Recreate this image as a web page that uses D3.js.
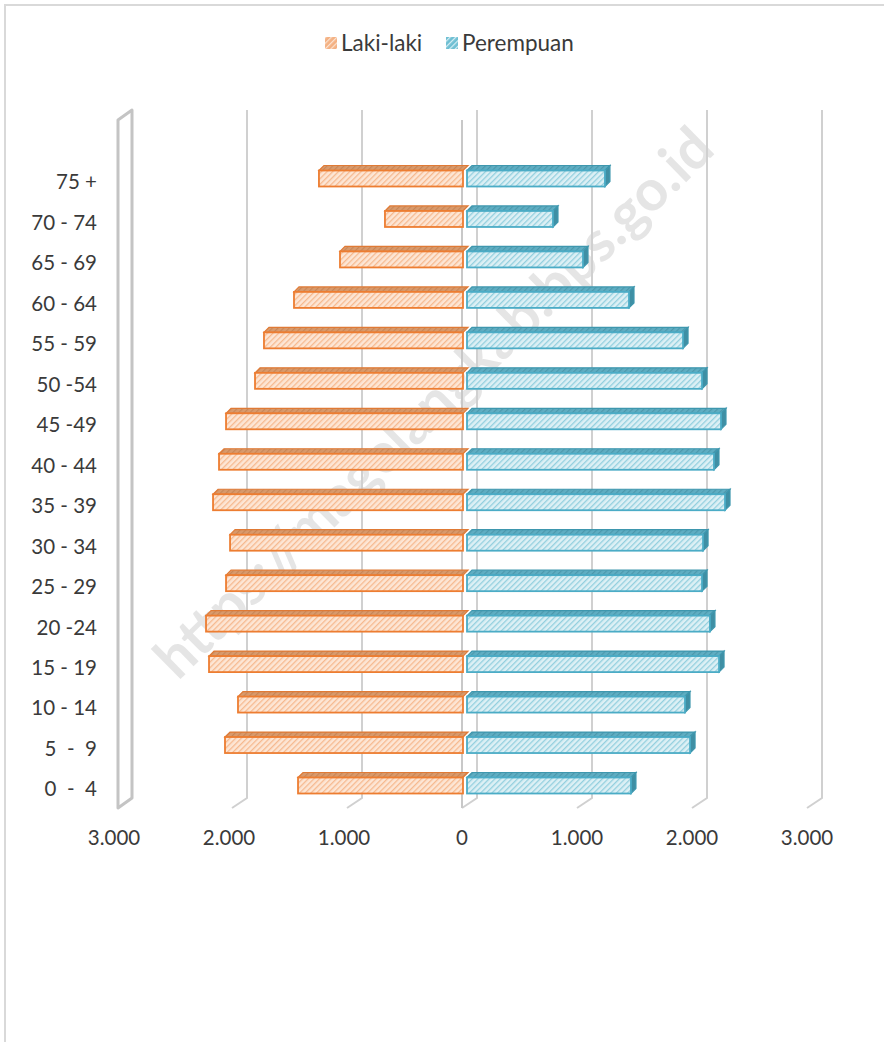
<!DOCTYPE html>
<html>
<head>
<meta charset="utf-8">
<script src="https://cdn.jsdelivr.net/npm/d3@7"></script>
<style>
  html, body { margin: 0; padding: 0; background: #fff; }
  svg { display: block; }
  text { font-family: Lato, "Open Sans", sans-serif; }
</style>
</head>
<body>
<svg id="chart" width="884" height="1042"></svg>
<script>
// ---- data ----
const categories = ["0  -  4", "5  -  9", "10 - 14", "15 - 19", "20 -24", "25 - 29", "30 - 34", "35 - 39",
                    "40 - 44", "45 -49", "50 -54", "55 - 59", "60 - 64", "65 - 69", "70 - 74", "75 +"];
const lakiLaki  = [1452, 2087, 1974, 2226, 2252, 2078, 2043, 2191, 2139, 2078, 1826, 1748, 1487, 1087, 696, 1270];
const perempuan = [1443, 1957, 1913, 2209, 2130, 2061, 2070, 2261, 2165, 2226, 2061, 1896, 1426, 1026, 765, 1217];
const tickValues = [-3000, -2000, -1000, 0, 1000, 2000, 3000];
const tickLabels = ["3.000", "2.000", "1.000", "0", "1.000", "2.000", "3.000"];
const seriesNames = ["Laki-laki", "Perempuan"];

// ---- layout ----
const svg = d3.select("#chart");
const DX = 15, DY = 10;            // chart depth offset (back plane vs front plane)
const backTop = 110, backBottom = 798;
const xFront = d3.scaleLinear().domain([-3000, 3000]).range([117, 807]);
const xBack = v => xFront(v) + DX;
const xBar = d3.scaleLinear().domain([-3000, 3000]).range([465 - 345, 465 + 345]);
const y = d3.scalePoint().domain(categories).range([789, 182]);

// defs: hatch patterns
const defs = svg.append("defs");
function hatch(id, bg, fg, w) {
  const p = defs.append("pattern").attr("id", id).attr("patternUnits", "userSpaceOnUse")
    .attr("width", 4).attr("height", 4).attr("patternTransform", "rotate(45)");
  p.append("rect").attr("width", 4).attr("height", 4).attr("fill", bg);
  p.append("rect").attr("width", w).attr("height", 4).attr("fill", fg);
}
hatch("hOrange", "#FDE6D5", "#F6B98F", 1.3);
hatch("hBlue", "#DDF0F5", "#93CFDE", 1.3);
hatch("hOrangeTop", "#D99A6C", "#C98656", 1.2);
hatch("hBlueTop", "#5FAEC3", "#4C98AC", 1.2);
hatch("legO", "#F4B183", "#FBE3D2", 1.2);
hatch("legB", "#6FBFD3", "#D8EFF5", 1.2);

// chart border
svg.append("path").attr("d", "M5,1042 V5 H884").attr("fill", "none").attr("stroke", "#D9D9D9").attr("stroke-width", 2);

// watermark (behind the bars)
svg.append("text")
  .attr("transform", "translate(433,402) rotate(-44.5)")
  .attr("text-anchor", "middle").attr("dy", "0.36em")
  .attr("font-size", 57).attr("font-weight", "bold")
  .attr("font-family", "'Liberation Sans', Arial, sans-serif")
  .attr("fill", "#8a8a8a").attr("fill-opacity", 0.22)
  .text("https://magelangkab.bps.go.id");

// back gridlines with floor slants
const grid = svg.append("g").attr("stroke", "#D0D0D0").attr("stroke-width", 2).attr("fill", "none");
tickValues.filter(v => v !== -3000).forEach(v => {
  grid.append("path").attr("d", `M${xBack(v)},${backTop} V${backBottom} L${xBack(v) - DX},${backBottom + DY}`);
});
// front vertical axis line at zero
grid.append("path").attr("d", `M${xFront(0)},${backTop + DY} V${backBottom + DY}`).attr("stroke", "#C8C8C8");

// left wall
svg.append("path")
  .attr("d", `M${xFront(-3000) + 1},${backTop + DY} L${xBack(-3000)},${backTop} V${backBottom} L${xFront(-3000) + 1},${backBottom + DY} Z`)
  .attr("fill", "#fff").attr("stroke", "#C4C4C4").attr("stroke-width", 3).attr("stroke-linejoin", "round");

// bars
const FH = 16, BD = 5, BDY = 5;
const bars = svg.append("g");
categories.forEach((c, i) => {
  const cy = y(c);
  const yt = cy - 11.5, yb = yt + FH;
  // Laki-laki (left)
  const xl = xBar(-lakiLaki[i]), x0l = xBar(0) - 2;
  bars.append("path")
    .attr("d", `M${xl},${yt} L${xl + BD},${yt - BDY} H${x0l + BD} L${x0l},${yt} Z`)
    .attr("fill", "url(#hOrangeTop)").attr("stroke", "#E07A35").attr("stroke-width", 1.2);
  bars.append("rect").attr("x", xl).attr("y", yt).attr("width", x0l - xl).attr("height", FH)
    .attr("fill", "url(#hOrange)").attr("stroke", "#ED7D31").attr("stroke-width", 1.8);
  // Perempuan (right)
  const x0r = xBar(0) + 2, xr = xBar(perempuan[i]);
  bars.append("path")
    .attr("d", `M${x0r},${yt} L${x0r + BD},${yt - BDY} H${xr + BD} L${xr},${yt} Z`)
    .attr("fill", "url(#hBlueTop)").attr("stroke", "#3E97AE").attr("stroke-width", 1.2);
  bars.append("path")
    .attr("d", `M${xr},${yt} L${xr + BD},${yt - BDY} V${yb - BDY} L${xr},${yb} Z`)
    .attr("fill", "#3F8FA4").attr("stroke", "#3E97AE").attr("stroke-width", 1.2);
  bars.append("rect").attr("x", x0r).attr("y", yt).attr("width", xr - x0r).attr("height", FH)
    .attr("fill", "url(#hBlue)").attr("stroke", "#4BACC6").attr("stroke-width", 1.8);
});

// category labels
svg.append("g").selectAll("text").data(categories).join("text")
  .attr("x", 97).attr("y", d => y(d)).attr("dy", "0.36em")
  .attr("text-anchor", "end").attr("font-size", 20.5).attr("fill", "#3a3a3a")
  .style("white-space", "pre").text(d => d);

// value axis labels
svg.append("g").selectAll("text").data(tickValues).join("text")
  .attr("x", d => xFront(d) - (d < 0 ? 3 : 0)).attr("y", 838).attr("dy", "0.36em")
  .attr("text-anchor", "middle").attr("font-size", 20.5).attr("fill", "#3a3a3a")
  .text((d, i) => tickLabels[i]);

// legend
const leg = svg.append("g").attr("font-size", 22.5).attr("fill", "#3a3a3a");
const legItems = [{name: seriesNames[0], x: 325, fill: "url(#legO)"}, {name: seriesNames[1], x: 446, fill: "url(#legB)"}];
legItems.forEach(it => {
  leg.append("rect").attr("x", it.x).attr("y", 37).attr("width", 12).attr("height", 12).attr("fill", it.fill);
  leg.append("text").attr("x", it.x + 16).attr("y", 43).attr("dy", "0.36em").text(it.name);
});
</script>
</body>
</html>
